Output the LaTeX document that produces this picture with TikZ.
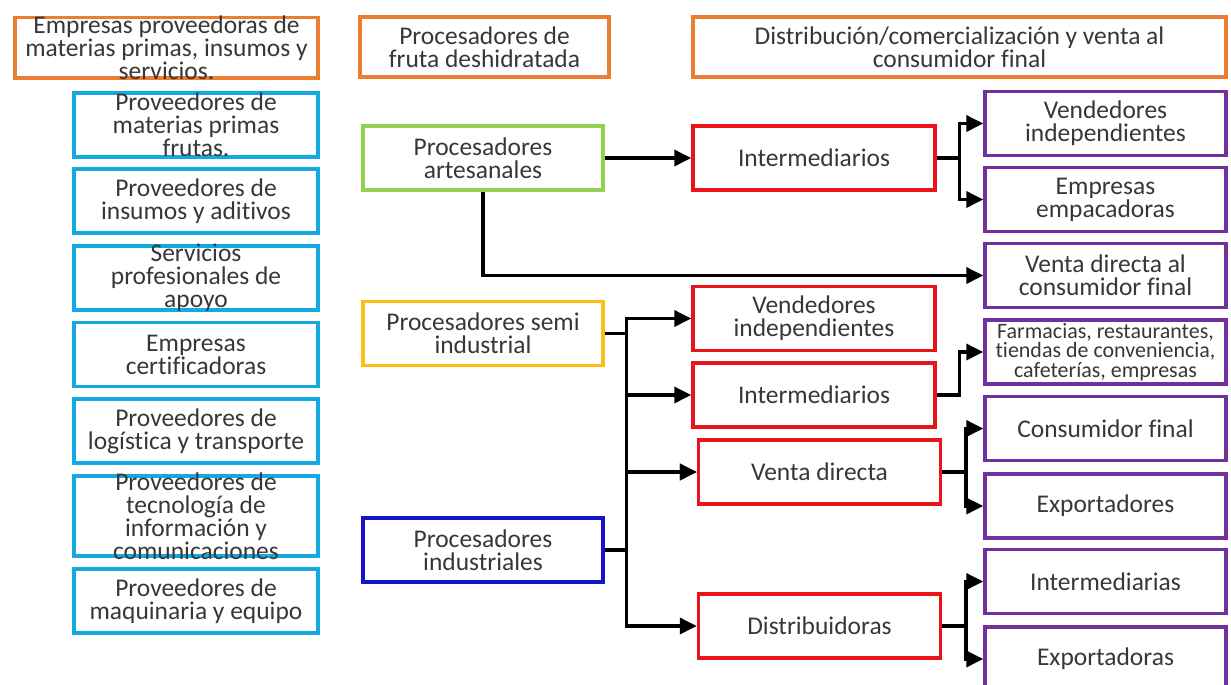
\documentclass[tikz,border=0pt]{standalone}
\usepackage{fontspec}
\setmainfont{Carlito}[Ligatures=NoCommon]
\usetikzlibrary{arrows.meta}
\definecolor{hdrorange}{RGB}{237,125,49}
\definecolor{provblue}{RGB}{20,170,225}
\definecolor{artgreen}{RGB}{146,208,80}
\definecolor{semiyellow}{RGB}{250,190,20}
\definecolor{indblue}{RGB}{20,20,200}
\definecolor{chred}{RGB}{232,20,25}
\definecolor{endpurple}{RGB}{112,48,160}
\definecolor{txtgray}{RGB}{55,55,55}

\begin{document}
\begin{tikzpicture}[x=.02cm,y=-.02cm,line width=2pt,
  tx/.style={align=center,inner sep=0pt,text=txtgray,font=\fontsize{14.5}{13}\selectfont},
  bx/.style={draw,inner sep=0pt,label={[tx]center:#1}},
  hdr/.style={bx={#1},draw=hdrorange,minimum height=1.21cm},
  prov/.style={bx={#1},draw=provblue,minimum width=4.88cm,minimum height=1.28cm},
  proc/.style={bx={#1},minimum width=4.8cm,minimum height=1.28cm},
  chan/.style={bx={#1},draw=chred,minimum width=4.84cm,minimum height=1.28cm},
  dest/.style={bx={#1},draw=endpurple,minimum width=4.82cm,minimum height=1.28cm},
  destsm/.style={draw=endpurple,inner sep=0pt,minimum width=4.82cm,minimum height=1.28cm,
    label={[tx,font=\fontsize{12.5}{9.6}\selectfont]center:#1}},
  arr/.style={-{Triangle[length=.34cm,width=.32cm]}}]
\useasboundingbox (0,0) rectangle (1231,684);

% encabezados
\node[hdr={Empresas proveedoras de\\materias primas, insumos y\\servicios.},minimum width=6.06cm] (hsup) at (166.5,47.5) {};
\node[hdr={Procesadores de\\fruta deshidratada},minimum width=4.98cm] (hproc) at (484.5,47) {};
\node[hdr={Distribución/comercialización y venta al\\consumidor final},minimum width=10.66cm] (hdist) at (959.5,47) {};

% proveedores
\node[prov={Proveedores de\\materias primas\\frutas.}] (pmp) at (196,125) {};
\node[prov={Proveedores de\\insumos y aditivos}] (pins) at (196,201) {};
\node[prov={Servicios\\profesionales de\\apoyo}] (pser) at (196,278) {};
\node[prov={Empresas\\certificadoras}] (pcert) at (196,354.5) {};
\node[prov={Proveedores de\\logística y transporte}] (plog) at (196,431) {};
\node[prov={Proveedores de\\tecnología de\\información y\\comunicaciones},minimum height=1.6cm] (ptic) at (196,516) {};
\node[prov={Proveedores de\\maquinaria y equipo}] (pmaq) at (196,601) {};

% procesadores
\node[proc={Procesadores\\artesanales},draw=artgreen] (art) at (483,158) {};
\node[proc={Procesadores semi\\industrial},draw=semiyellow] (semi) at (483,333.5) {};
\node[proc={Procesadores\\industriales},draw=indblue] (ind) at (483,550) {};

% canales
\node[chan={Intermediarios}] (int1) at (814,158) {};
\node[chan={Vendedores\\independientes}] (vend) at (814,318.5) {};
\node[chan={Intermediarios}] (int2) at (814,395) {};
\node[chan={Venta directa}] (vdir) at (819.5,472) {};
\node[chan={Distribuidoras}] (dist) at (819.5,626) {};

% destinos
\node[dest={Vendedores\\independientes}] (vind) at (1105.5,123.5) {};
\node[dest={Empresas\\empacadoras}] (emp) at (1105.5,199.5) {};
\node[dest={Venta directa al\\consumidor final}] (vdcf) at (1105.5,275.5) {};
\node[destsm={Farmacias, restaurantes,\\tiendas de conveniencia,\\cafeterías, empresas}] (farm) at (1105.5,352) {};
\node[dest={Consumidor final}] (cons) at (1105.5,428.5) {};
\node[dest={Exportadores}] (expd) at (1105.5,506) {};
\node[dest={Intermediarias}] (intm) at (1105.5,581.5) {};
\node[dest={Exportadoras}] (expa) at (1105.5,659) {};

% conexiones
\draw[arr] (art.east) -- (int1.west);
\draw[arr] (int1.east) -- ++(23,0) |- (vind.west);
\draw[arr] (int1.east) -- ++(23,0) |- (emp.west);
\draw[arr] (art.south) |- (vdcf.west);
\draw[arr] (semi.east) -- ++(22,0) |- (vend.west);
\draw[arr] (semi.east) -- ++(22,0) |- (int2.west);
\draw[arr] (semi.east) -- ++(22,0) |- (vdir.west);
\draw[arr] (ind.east) -- ++(22,0) |- (vdir.west);
\draw[arr] (ind.east) -- ++(22,0) |- (dist.west);
\draw[arr] (int2.east) -- ++(23,0) |- (farm.west);
\draw[arr] (vdir.east) -- ++(24,0) |- (cons.west);
\draw[arr] (vdir.east) -- ++(24,0) |- (expd.west);
\draw[arr] (dist.east) -- ++(24,0) |- (intm.west);
\draw[arr] (dist.east) -- ++(24,0) |- (expa.west);
\end{tikzpicture}
\end{document}
